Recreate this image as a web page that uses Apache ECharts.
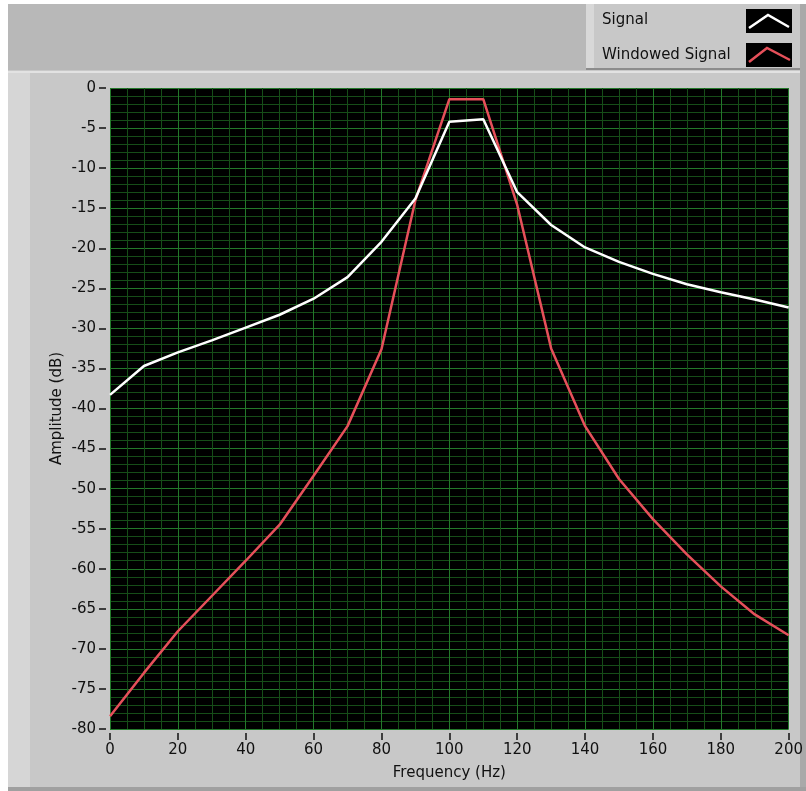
<!DOCTYPE html>
<html>
<head>
<meta charset="utf-8">
<script src="https://cdn.jsdelivr.net/npm/echarts@6/dist/echarts.min.js"></script>
<style>
html,body{margin:0;padding:0;background:#fff;}
#chart{width:806px;height:791px;}
</style>
</head>
<body>
<div id="chart"></div>
<script>
const freq = [0,10,20,30,40,50,60,70,80,90,100,110,120,130,140,150,160,170,180,190,200];
const signal = [-38.3,-34.7,-33.0,-31.5,-29.9,-28.3,-26.3,-23.6,-19.2,-13.8,-4.2,-3.9,-13.0,-17.1,-19.9,-21.7,-23.2,-24.5,-25.5,-26.4,-27.4];
const windowed = [-78.4,-73.0,-67.8,-63.4,-59.0,-54.5,-48.4,-42.2,-32.6,-14.0,-1.4,-1.4,-14.6,-32.5,-42.2,-48.8,-53.8,-58.2,-62.2,-65.7,-68.3];
const seriesNames = ['Signal','Windowed Signal'];
const xName = 'Frequency (Hz)';
const yName = 'Amplitude (dB)';

const FONT = 'DejaVu Sans';
const chart = echarts.init(document.getElementById('chart'));
const pair = (ys) => freq.map((f,i)=>[f, ys[i]]);

chart.setOption({
  animation:false,
  backgroundColor:'#ffffff',
  grid:{left:110, right:16, top:88, bottom:62, show:true, backgroundColor:'#000000', borderWidth:0},
  xAxis:{
    type:'value', min:0, max:200, interval:20,
    name:xName, nameLocation:'middle', nameGap:33, nameMoveOverlap:false,
    nameTextStyle:{fontFamily:FONT, fontSize:15, color:'#111'},
    offset:4,
    axisLine:{show:true, onZero:false, lineStyle:{color:'rgba(0,0,0,0)'}},
    axisTick:{show:true, inside:false, length:7, lineStyle:{color:'#111', width:1.5}},
    axisLabel:{fontFamily:FONT, fontSize:15, color:'#111', margin:10},
    splitLine:{show:true, lineStyle:{color:'#23782a', width:1}},
    minorTick:{show:false, splitNumber:4},
    minorSplitLine:{show:true, lineStyle:{color:'#164d18', width:1}}
  },
  yAxis:{
    type:'value', min:-80, max:0, interval:5,
    name:yName, nameLocation:'middle', nameGap:41, nameMoveOverlap:false,
    nameTextStyle:{fontFamily:FONT, fontSize:15, color:'#111'},
    offset:4,
    axisLine:{show:true, onZero:false, lineStyle:{color:'rgba(0,0,0,0)'}},
    axisTick:{show:true, inside:false, length:7, lineStyle:{color:'#111', width:1.5}},
    axisLabel:{fontFamily:FONT, fontSize:15, color:'#111', margin:10},
    splitLine:{show:true, lineStyle:{color:'#23782a', width:1}},
    minorTick:{show:false, splitNumber:5},
    minorSplitLine:{show:true, lineStyle:{color:'#164d18', width:1}}
  },
  series:[
    {name:seriesNames[0], type:'line', data:pair(signal), showSymbol:false, lineStyle:{color:'#ffffff', width:2.5}, itemStyle:{color:'#ffffff'}, z:3},
    {name:seriesNames[1], type:'line', data:pair(windowed), showSymbol:false, lineStyle:{color:'#e6505a', width:2.5}, itemStyle:{color:'#e6505a'}, z:2}
  ],
  graphic:[
    {type:'rect', z:-10, shape:{x:8,y:4,width:792,height:783}, style:{fill:'#c8c8c8'}},
    {type:'rect', z:-9, shape:{x:8,y:4,width:792,height:66}, style:{fill:'#b8b8b8'}},
    {type:'rect', z:-9, shape:{x:8,y:71,width:792,height:2}, style:{fill:'#e2e2e2'}},
    {type:'rect', z:-9, shape:{x:8,y:73,width:22,height:714}, style:{fill:'#d6d6d6'}},
    {type:'rect', z:-9, shape:{x:800,y:4,width:6,height:787}, style:{fill:'#a9a9a9'}},
    {type:'rect', z:-9, shape:{x:8,y:787,width:798,height:4}, style:{fill:'#a0a0a0'}},
    {type:'rect', z:-8, shape:{x:586,y:4,width:214,height:64}, style:{fill:'#c8c8c8'}},
    {type:'rect', z:-8, shape:{x:586,y:4,width:8,height:64}, style:{fill:'#d8d8d8'}},
    {type:'rect', z:-8, shape:{x:586,y:68,width:214,height:2}, style:{fill:'#8c8c8c'}},
    {type:'rect', z:-7, shape:{x:746,y:9,width:46,height:24}, style:{fill:'#000'}},
    {type:'polyline', z:-6, shape:{points:[[749,28],[768,15],[789,27]]}, style:{stroke:'#ffffff', lineWidth:2.5, fill:null}},
    {type:'rect', z:-7, shape:{x:746,y:43,width:46,height:24}, style:{fill:'#000'}},
    {type:'polyline', z:-6, shape:{points:[[749,62],[767,48],[790,60]]}, style:{stroke:'#e6505a', lineWidth:2.5, fill:null}},
    {type:'text', z:-6, style:{x:602, y:20, text:seriesNames[0], fontFamily:FONT, fontSize:15, fill:'#111', verticalAlign:'middle', align:'left'}},
    {type:'text', z:-6, style:{x:602, y:55, text:seriesNames[1], fontFamily:FONT, fontSize:15, fill:'#111', verticalAlign:'middle', align:'left'}}
  ]
});
</script>
</body>
</html>
